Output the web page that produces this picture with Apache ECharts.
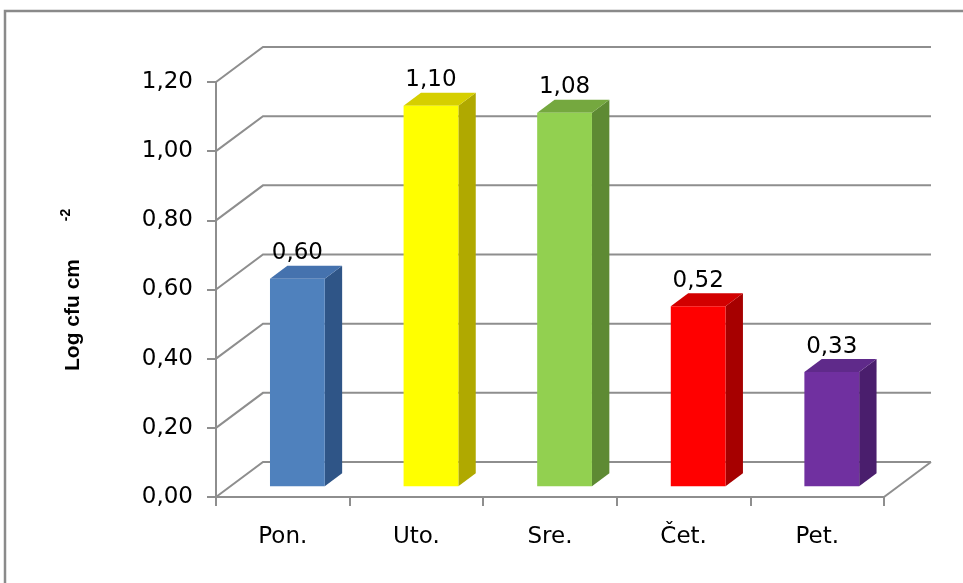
<!DOCTYPE html>
<html>
<head>
<meta charset="utf-8">
<script src="https://cdn.jsdelivr.net/npm/echarts@6/dist/echarts.min.js"></script>
<style>
  html, body { margin: 0; padding: 0; background: #ffffff; }
  #chart { width: 963px; height: 583px; }
</style>
</head>
<body>
<div id="chart"></div>
<script>
// Daily counts (log cfu per cm²)
const categories = ['Pon.', 'Uto.', 'Sre.', 'Čet.', 'Pet.'];
const values = [0.60, 1.10, 1.08, 0.52, 0.33];
const gridValues = [0, 0.2, 0.4, 0.6, 0.8, 1.0, 1.2];
const axisTitle = 'Log cfu cm';
const axisTitleExponent = '-2';

// Face colours of each column: front, top, side
const frontColors = ['#4F81BD', '#FFFF00', '#92D050', '#FF0000', '#7030A0'];
const topColors   = ['#4572AE', '#D6CF00', '#75A83F', '#D20000', '#5F2A8A'];
const sideColors  = ['#2F5587', '#B0A900', '#5E8A33', '#A60000', '#4A1E6D'];

// Oblique projection of the depth axis (pixels for the full floor depth)
const DEPTH_X = 47, DEPTH_Y = -35;
const BAR_NEAR = 0.31, BAR_FAR = 0.68;   // column occupies this slice of the depth
const BAR_RATIO = 0.41;                  // column width relative to category band
const LINE_COLOR = '#8E8E8E';
const LABEL_FONT = 'DejaVu Sans';
const LABEL_SIZE = 23;
const fmt = v => v.toFixed(2).replace('.', ',');

const chart = echarts.init(document.getElementById('chart'), null, { renderer: 'canvas' });

function renderWalls(params, api) {
  const cs = params.coordSys;
  const v = api.value(1);
  const y = api.coord([0, v])[1];
  const left = cs.x, right = cs.x + cs.width;
  const children = [{
    type: 'polyline',
    shape: { points: [[left, y], [left + DEPTH_X, y + DEPTH_Y], [right + DEPTH_X, y + DEPTH_Y]] },
    style: { stroke: LINE_COLOR, lineWidth: 2, fill: null }
  }];
  if (v === 0) {
    children.push({
      type: 'line',
      shape: { x1: right, y1: y, x2: right + DEPTH_X, y2: y + DEPTH_Y },
      style: { stroke: LINE_COLOR, lineWidth: 2 }
    });
  }
  return { type: 'group', children };
}

function renderColumn(params, api) {
  const idx = api.value(0);
  const v = api.value(1);
  const top = api.coord([idx, v]);
  const base = api.coord([idx, 0]);
  const band = api.size([1, 0])[0];
  const w = band * BAR_RATIO;
  const nx = BAR_NEAR * DEPTH_X, ny = BAR_NEAR * DEPTH_Y;
  const dx = (BAR_FAR - BAR_NEAR) * DEPTH_X, dy = (BAR_FAR - BAR_NEAR) * DEPTH_Y;
  const x0 = top[0] - w / 2 + nx, x1 = x0 + w;
  const yT = top[1] + ny, yB = base[1] + ny;
  const i = params.dataIndex;
  return {
    type: 'group',
    children: [
      {
        type: 'polygon',
        shape: { points: [[x1, yT], [x1 + dx, yT + dy], [x1 + dx, yB + dy], [x1, yB]] },
        style: { fill: sideColors[i] }
      },
      {
        type: 'polygon',
        shape: { points: [[x0, yT], [x1, yT], [x1 + dx, yT + dy], [x0 + dx, yT + dy]] },
        style: { fill: topColors[i] }
      },
      {
        type: 'rect',
        shape: { x: x0, y: yT, width: w, height: yB - yT },
        style: { fill: frontColors[i] }
      },
      {
        type: 'text',
        x: (x0 + x1) / 2,
        y: yT + dy - 1,
        style: {
          text: fmt(v),
          fill: '#000000',
          fontFamily: LABEL_FONT,
          fontSize: LABEL_SIZE,
          align: 'center',
          verticalAlign: 'bottom'
        }
      }
    ]
  };
}

chart.setOption({
  backgroundColor: '#ffffff',
  animation: false,
  grid: { left: 216, right: 79, top: 82, bottom: 86, containLabel: false },
  xAxis: {
    type: 'category',
    data: categories,
    axisLine: { lineStyle: { color: LINE_COLOR, width: 2 } },
    axisTick: { show: true, length: 9, lineStyle: { color: LINE_COLOR, width: 2 } },
    axisLabel: { color: '#000000', fontFamily: LABEL_FONT, fontSize: LABEL_SIZE, margin: 29 },
    splitLine: { show: false }
  },
  yAxis: {
    type: 'value',
    min: 0,
    max: 1.2,
    interval: 0.2,
    axisLine: { show: true, lineStyle: { color: LINE_COLOR, width: 2 } },
    axisTick: { show: true, length: 9, lineStyle: { color: LINE_COLOR, width: 2 } },
    axisLabel: { color: '#000000', fontFamily: LABEL_FONT, fontSize: LABEL_SIZE, margin: 23, formatter: fmt },
    splitLine: { show: false }
  },
  graphic: [
    {
      type: 'rect',
      shape: { x: 5, y: 11, width: 1200, height: 800 },
      style: { fill: null, stroke: '#8A8A8A', lineWidth: 2.5 },
      silent: true
    },
    {
      type: 'text',
      x: 73,
      y: 315,
      rotation: Math.PI / 2,
      style: {
        text: axisTitle,
        fontFamily: 'Liberation Sans',
        fontWeight: 'bold',
        fontSize: 21,
        fill: '#000000',
        align: 'center',
        verticalAlign: 'middle'
      }
    },
    {
      type: 'text',
      x: 66,
      y: 215,
      rotation: Math.PI / 2,
      style: {
        text: axisTitleExponent,
        fontFamily: 'Liberation Sans',
        fontWeight: 'bold',
        fontSize: 14,
        fill: '#000000',
        align: 'center',
        verticalAlign: 'middle'
      }
    }
  ],
  series: [
    {
      type: 'custom',
      name: 'walls',
      renderItem: renderWalls,
      data: gridValues.map(v => [0, v]),
      z: 1,
      silent: true
    },
    {
      type: 'custom',
      name: 'Log cfu cm-2',
      renderItem: renderColumn,
      data: values.map((v, i) => [i, v]),
      z: 3
    }
  ]
});
</script>
</body>
</html>
